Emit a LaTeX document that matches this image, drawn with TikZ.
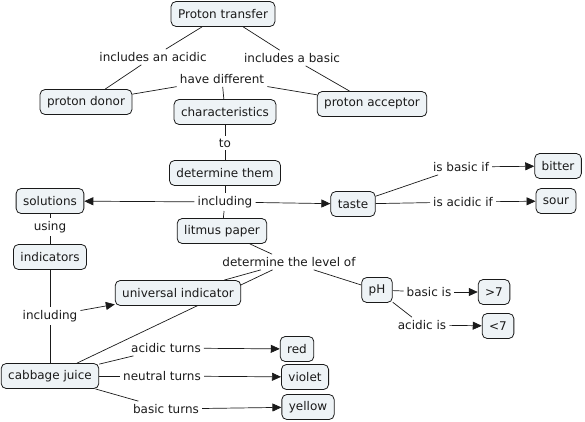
\documentclass[tikz,border=0pt]{standalone}
\usepackage{fontspec}
\setmainfont{DejaVu Sans}
\usepackage{tikz}
\usetikzlibrary{arrows.meta, backgrounds}
\definecolor{cmapfill}{HTML}{EEF3F6}
\definecolor{cmapline}{HTML}{1A1A1A}

\begin{document}
\begin{tikzpicture}[x=1pt, y=-1pt,
  concept/.style={rectangle, rounded corners=5pt, draw=cmapline, fill=cmapfill,
                  line width=0.8pt, font=\fontsize{12}{14}\selectfont,
                  inner xsep=7pt, minimum height=25pt, text=cmapline},
  link/.style={font=\fontsize{12}{14}\selectfont, inner sep=3pt, text=cmapline},
  con/.style={draw=cmapline, line width=0.7pt},
  arr/.style={con, -{Triangle[length=9pt, width=8pt]}},
]
  \useasboundingbox (0,0) rectangle (585,422);

  %% ── Concepts ────────────────────────────────────────────────────────────
  \node[concept] (pt)    at (223, 14)  {Proton transfer};
  \node[concept] (donor) at (86, 102)  {proton donor};
  \node[concept] (acc)   at (372,104)  {proton acceptor};
  \node[concept] (char)  at (225,112)  {characteristics};
  \node[concept] (detm)  at (225,173)  {determine them};
  \node[concept] (sol)   at (50, 201)  {solutions};
  \node[concept] (lit)   at (222,231)  {litmus paper};
  \node[concept] (taste) at (353,204)  {taste};
  \node[concept] (bit)   at (558,166)  {bitter};
  \node[concept] (sour)  at (556,201)  {sour};
  \node[concept] (ind)   at (50, 257)  {indicators};
  \node[concept] (uni)   at (178,293)  {universal indicator};
  \node[concept] (ph)    at (377,290)  {pH};
  \node[concept] (gt)    at (494,292)  {>7};
  \node[concept] (lt)    at (498,326)  {<7};
  \node[concept] (cab)   at (50, 376)  {cabbage juice};
  \node[concept] (red)   at (297,349)  {red};
  \node[concept] (vio)   at (305,377)  {violet};
  \node[concept] (yel)   at (308,407)  {yellow};

  %% ── Linking phrases ─────────────────────────────────────────────────────
  \node[link] (lacid)  at (153, 57)  {includes an acidic};
  \node[link] (lbase)  at (292, 58)  {includes a basic};
  \node[link] (ldiff)  at (222, 79)  {have different};
  \node[link] (lto)    at (225,143)  {to};
  \node[link] (linc)   at (225,202)  {including};
  \node[link] (lusing) at (50, 227)  {using};
  \node[link] (linc2)  at (50, 316)  {including};
  \node[link] (lbif)   at (461,167)  {is basic if};
  \node[link] (laif)   at (463,202)  {is acidic if};
  \node[link] (llevel) at (289,262)  {determine the level of};
  \node[link] (lbis)   at (429,292)  {basic is};
  \node[link] (lais)   at (422,325)  {acidic is};
  \node[link] (lat)    at (166,348)  {acidic turns};
  \node[link] (lnt)    at (162,376)  {neutral turns};
  \node[link] (lbt)    at (166,409)  {basic turns};

  %% ── Connectors (behind the concepts) ────────────────────────────────────
  \begin{scope}[on background layer]
    \draw[con] (pt) -- (lacid);  \draw[con] (lacid) -- (donor);
    \draw[con] (pt) -- (lbase);  \draw[con] (lbase) -- (acc);
    \draw[con] (donor) -- (ldiff);
    \draw[con] (acc) -- (ldiff);
    \draw[con] (ldiff) -- (char);
    \draw[con] (char) -- (lto);  \draw[con] (lto) -- (detm);
    \draw[con] (detm) -- (linc); \draw[con] (linc) -- (lit);
    \draw[arr] (linc) -- (sol);
    \draw[arr] (linc) -- (taste);
    \draw[con] (sol) -- (lusing); \draw[con] (lusing) -- (ind);
    \draw[con] (ind) -- (linc2);
    \draw[arr] (linc2) -- (uni);
    \draw[con] (linc2) -- (cab);
    \draw[con] (taste) -- (lbif);  \draw[arr] (lbif) -- (bit);
    \draw[con] (taste) -- (laif);  \draw[arr] (laif) -- (sour);
    \draw[con] (lit) -- (llevel);
    \draw[con] (uni) -- (llevel);
    \draw[con] (cab) -- (llevel);
    \draw[con] (llevel) -- (ph);
    \draw[con] (ph) -- (lbis);  \draw[arr] (lbis) -- (gt);
    \draw[con] (ph) -- (lais);  \draw[arr] (lais) -- (lt);
    \draw[con] (cab) -- (lat);  \draw[arr] (lat) -- (red);
    \draw[con] (cab) -- (lnt);  \draw[arr] (lnt) -- (vio);
    \draw[con] (cab) -- (lbt);  \draw[arr] (lbt) -- (yel);
  \end{scope}

\end{tikzpicture}
\end{document}
